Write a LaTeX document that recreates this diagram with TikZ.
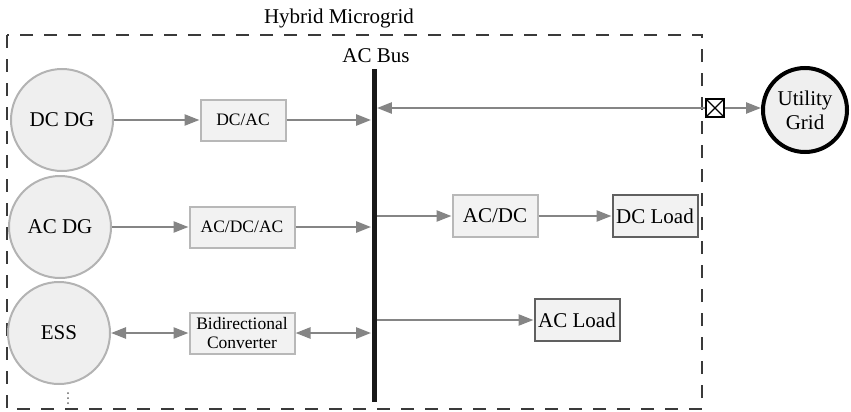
\documentclass[tikz,border=0pt]{standalone}
\usepackage{fontspec}
\setmainfont{Liberation Serif}
\usetikzlibrary{arrows.meta}
\definecolor{arrowgray}{HTML}{858585}
\definecolor{circfill}{HTML}{EFEFEF}
\definecolor{circline}{HTML}{B3B3B3}
\definecolor{boxfill}{HTML}{F2F2F2}
\definecolor{boxline}{HTML}{B8B8B8}
\definecolor{loadline}{HTML}{606060}
\definecolor{framegray}{HTML}{3A3A3A}
\begin{document}
\begin{tikzpicture}[x=0.5pt,y=-0.5pt,
  mainfont/.style={font=\fontsize{10.5}{11.5}\selectfont},
  smallfont/.style={font=\fontsize{8.75}{9.5}\selectfont},
  source/.style={circle,draw=circline,line width=1pt,fill=circfill,minimum size=51pt,inner sep=0pt,mainfont},
  conv/.style={rectangle,draw=boxline,line width=1pt,fill=boxfill,minimum height=20.5pt,inner sep=1pt,align=center},
  loadbox/.style={rectangle,draw=loadline,line width=1pt,fill=boxfill,minimum width=42.5pt,minimum height=21pt,inner sep=1pt,mainfont},
  tip/.tip={Triangle[length=7.5pt,width=5.5pt]},
  flow/.style={draw=arrowgray,line width=1.2pt,-tip,arrowgray},
  bflow/.style={draw=arrowgray,line width=1.2pt,tip-tip,arrowgray},
  frame/.style={draw=framegray,line width=0.9pt,dash pattern=on 6.5pt off 5.5pt},
  dot/.style={circle,fill=black!60,inner sep=0pt,minimum size=1pt}
]
\useasboundingbox (0,0) rectangle (851,412);

% frame
\draw[frame] (7,35) rectangle (702,409);
\node[mainfont] (title) at (339,18) {Hybrid Microgrid};

% AC bus
\node[mainfont] (buslabel) at (376,56) {AC Bus};
\node[rectangle,fill=black!90,minimum width=2.5pt,minimum height=166.5pt,inner sep=0pt] (bus) at (374,235.5) {};

% sources
\node[source] (dcdg) at (62,120) {DC DG};
\node[source] (acdg) at (60,227) {AC DG};
\node[source] (ess) at (59,333) {ESS};
\node[dot] (d1) at (68,393) {};
\node[dot] (d2) at (68,398) {};
\node[dot] (d3) at (68,403) {};

% converters
\node[conv,smallfont,minimum width=42.5pt] (dcac) at (243,120) {DC/AC};
\node[conv,smallfont,minimum width=52.5pt] (acdcac) at (242,227) {AC/DC/AC};
\node[conv,smallfont,minimum width=52.5pt] (bidir) at (242,333) {Bidirectional\\Converter};
\node[conv,mainfont,minimum width=42.5pt,minimum height=21pt] (acdc) at (495,216) {AC/DC};

% loads
\node[loadbox] (dcload) at (655,216) {DC Load};
\node[loadbox] (acload) at (577,320) {AC Load};

% switch and utility grid
\node[rectangle,draw=black,line width=0.6pt,fill=white,minimum size=9pt,inner sep=0pt] (sw) at (715,108) {};
\draw[black,line width=0.6pt] (sw.north west) -- (sw.south east) (sw.south west) -- (sw.north east);
\node[circle,draw=black,line width=2pt,fill=circfill,minimum size=42pt,inner sep=0pt,align=center,font=\fontsize{10.5}{12}\selectfont] (grid) at (805,110) {Utility\\Grid};

% connectors
\draw[flow] (dcdg.east) -- (dcac.west);
\draw[flow] (dcac.east) -- (dcac.east -| bus.west);
\draw[flow] (sw.west) -- (sw.west -| bus.east);
\draw[flow] (sw.east) -- (sw.east -| grid.west);
\draw[flow] (acdg.east) -- (acdcac.west);
\draw[flow] (acdcac.east) -- (acdcac.east -| bus.west);
\draw[bflow] (ess.east) -- (bidir.west);
\draw[bflow] (bidir.east) -- (bidir.east -| bus.west);
\draw[flow] (acdc.west -| bus.east) -- (acdc.west);
\draw[flow] (acdc.east) -- (dcload.west);
\draw[flow] (acload.west -| bus.east) -- (acload.west);
\end{tikzpicture}
\end{document}
